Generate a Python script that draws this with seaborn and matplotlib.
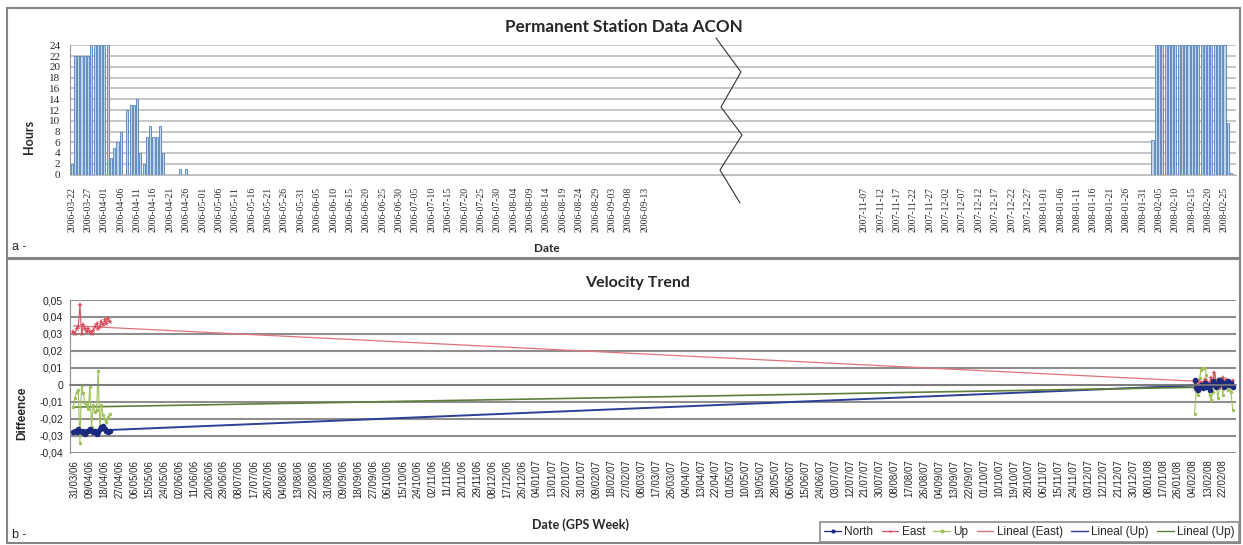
#!/usr/bin/env python3
"""Two-panel chart: ACON data availability and velocity trend."""

import matplotlib
matplotlib.use("Agg")
import matplotlib.dates as mdates
import matplotlib.pyplot as plt
import numpy as np
import pandas as pd
import seaborn as sns
from matplotlib.lines import Line2D
from matplotlib.patches import Rectangle
from matplotlib.ticker import FuncFormatter

# ---------------- panel a: hours of data per day ----------------
SEG1_START = "2006-03-22"
SEG1_HOURS = [2, 22, 22, 22, 22, 22, 24, 24, 24, 24, 24, 24, 3, 5, 6, 8, 0,
              12, 13, 13, 14, 4, 2, 7, 9, 7, 7, 9, 4, 0, 0, 0, 0, 1, 0, 1]
SEG2_START = "2008-02-03"
SEG2_HOURS = [6.5, 24, 24, 24, 24, 24, 24, 24, 24, 24, 24, 24, 24, 24, 24,
              24, 24, 24, 24, 24, 24, 24, 24, 9.5, 0.3]
SEG1_TICKS = pd.date_range("2006-03-22", "2006-09-13", freq="5D")
SEG2_TICKS = pd.date_range("2007-11-07", "2008-02-25", freq="5D")
CUT_DATE = pd.Timestamp("2007-11-07")
CUT_SLOT = 242  # axis slot where the second part starts after the break

# ---------------- panel b: daily differences ----------------
EARLY_START = "2006-03-30"
NORTH_EARLY = [-0.028, -0.027, -0.028, -0.026, -0.027, -0.028, -0.027, -0.029,
               -0.027, -0.027, -0.026, -0.027, -0.028, -0.027, -0.029, -0.028,
               -0.026, -0.025, -0.024, -0.026, -0.027, -0.028, -0.027]
EAST_EARLY = [0.031, 0.030, 0.033, 0.034, 0.047, 0.030, 0.035, 0.033, 0.031,
              0.033, 0.031, 0.030, 0.032, 0.034, 0.036, 0.033, 0.034, 0.037,
              0.035, 0.038, 0.036, 0.039, 0.037]
UP_EARLY = [-0.013, -0.008, -0.004, -0.003, -0.034, 0.000, -0.005, -0.011,
            -0.012, -0.014, -0.001, -0.025, -0.012, -0.016, -0.015, 0.008,
            -0.026, -0.012, -0.018, -0.020, -0.022, -0.019, -0.017]
LATE_START = "2008-02-05"
NORTH_LATE = [0.003, -0.002, -0.003, -0.001, 0.000, -0.002, 0.001, -0.001,
              0.000, -0.003, 0.000, 0.002, 0.001, -0.001, 0.000, 0.003, 0.002,
              0.001, -0.001, 0.001, 0.002, 0.000, 0.001, -0.001]
EAST_LATE = [0.001, 0.000, 0.002, -0.001, 0.001, 0.000, 0.003, 0.002, -0.001,
             0.001, 0.004, 0.002, 0.007, 0.001, 0.003, -0.002, 0.002, 0.004,
             0.001, 0.003, 0.002, 0.000, 0.001, 0.002]
UP_LATE = [-0.017, -0.003, -0.006, 0.004, 0.009, 0.010, 0.010, 0.006, -0.002,
           -0.006, -0.009, -0.004, 0.006, 0.003, -0.008, -0.002, 0.004, -0.006,
           0.002, 0.001, -0.003, 0.000, -0.004, -0.015]
VEL_TICKS = pd.date_range("2006-03-31", "2008-02-22", freq="9D")

W, H = 1243, 545

SERIES_STYLE = {
    "North": dict(color="#1b2a7e", marker="o", markersize=4, lw=1.6, mew=0),
    "East": dict(color="#d4505c", marker="*", markersize=4, lw=0.8, mew=0),
    "Up": dict(color="#9fc05a", marker="o", markersize=2.5, lw=0.8, mew=0),
}
TREND_STYLE = [
    ("east", "Lineal (East)", dict(color="#e0737c", lw=0.9)),
    ("north", "Lineal (Up)", dict(color="#2d3f96", lw=1.4)),
    ("up", "Lineal (Up)", dict(color="#5f7e3c", lw=1.2)),
]


def px(x, y):
    """Pixel position (from top-left) to figure fraction."""
    return x / W, 1 - y / H


def slot(dates):
    d = pd.DatetimeIndex(dates)
    first = (d - pd.Timestamp(SEG1_START)).days
    second = (d - CUT_DATE).days + CUT_SLOT
    return np.where(d >= CUT_DATE, second, first)


def axes_rect(left, top, right, bottom):
    x0, y0 = px(left, bottom)
    return [x0, y0, (right - left) / W, (bottom - top) / H]


sns.set_style("white")
plt.rcParams["font.family"] = ["Liberation Sans", "DejaVu Sans"]

fig = plt.figure(figsize=(W / 100, H / 100), dpi=100)

# ---------------- panel a ----------------
hours = pd.DataFrame({
    "date": list(pd.date_range(SEG1_START, periods=len(SEG1_HOURS)))
    + list(pd.date_range(SEG2_START, periods=len(SEG2_HOURS))),
    "hours": SEG1_HOURS + SEG2_HOURS,
})
hours["slot"] = slot(hours["date"])

ax1 = fig.add_axes(axes_rect(70, 45.5, 1236, 174.5))
sns.barplot(data=hours, x="slot", y="hours", native_scale=True, width=0.65,
            color="#c3d5ea", saturation=1, edgecolor="#4f81bd", linewidth=0.6,
            errorbar=None, ax=ax1)
ax1.set_xlim(-0.5, 355.5)
ax1.set_ylim(0, 24)
ax1.set_yticks(range(0, 25, 2))
ax1.grid(axis="y", color="#c6c6c6", lw=1.4)
ax1.set_axisbelow(True)
for side in ["top", "right"]:
    ax1.spines[side].set_visible(False)
ax1.spines["left"].set_color("#9a9a9a")
ax1.spines["bottom"].set_color("#bdbdbd")
ticks_a = SEG1_TICKS.append(SEG2_TICKS)
ax1.set_xticks(slot(ticks_a), [d.strftime("%Y-%m-%d") for d in ticks_a])
ax1.tick_params(axis="x", length=0, pad=9, labelrotation=90, labelsize=7)
ax1.tick_params(axis="y", length=0, pad=7, labelsize=8)
for lab in ax1.get_xticklabels() + ax1.get_yticklabels():
    lab.set_fontfamily("Liberation Serif")
    lab.set_color("#2a2a2a")
ax1.set_xlabel("")
ax1.set_ylabel("")

fig.text(*px(624, 27), "Permanent Station Data ACON", ha="center", va="center",
         fontsize=12.3, fontweight="bold", family="Lato")
fig.text(*px(29, 137), "Hours", ha="center", va="center", rotation=90,
         fontsize=9, fontweight="bold", family="Lato")
fig.text(*px(547, 248), "Date", ha="center", va="center",
         fontsize=8.5, fontweight="bold", family="Lato")
fig.text(*px(12, 247), "a -", ha="left", va="center", fontsize=9)

# break mark across the cut
zig_x = [716, 741, 721, 742, 720, 740]
zig_y = [38, 72, 107, 135, 170, 203]
fx, fy = zip(*[px(a, b) for a, b in zip(zig_x, zig_y)])
fig.add_artist(Line2D(fx, fy, transform=fig.transFigure, color="#333333", lw=0.8))

# ---------------- panel b ----------------
early = pd.DataFrame({"date": pd.date_range(EARLY_START, periods=len(NORTH_EARLY)),
                      "north": NORTH_EARLY, "east": EAST_EARLY, "up": UP_EARLY,
                      "cluster": 0})
late = pd.DataFrame({"date": pd.date_range(LATE_START, periods=len(NORTH_LATE)),
                     "north": NORTH_LATE, "east": EAST_LATE, "up": UP_LATE,
                     "cluster": 1})
vel = pd.concat([early, late], ignore_index=True)
vel["t"] = mdates.date2num(vel["date"])

ax2 = fig.add_axes(axes_rect(70, 300, 1236, 452.7))
for col, label, style in TREND_STYLE:
    sns.regplot(data=vel, x="t", y=col, scatter=False, ci=None, truncate=True,
                color=style["color"], line_kws=dict(lw=style["lw"]), ax=ax2)
for col, name in [("up", "Up"), ("east", "East"), ("north", "North")]:
    st = SERIES_STYLE[name]
    sns.lineplot(data=vel, x="t", y=col, units="cluster", estimator=None,
                 color=st["color"], marker=st["marker"], markersize=st["markersize"],
                 markeredgewidth=st["mew"], lw=st["lw"], legend=False, ax=ax2)

ax2.set_xlim(mdates.date2num(pd.Timestamp("2006-03-28")),
             mdates.date2num(pd.Timestamp("2008-03-01")))
ax2.set_ylim(-0.04, 0.05)
ax2.set_yticks(np.round(np.arange(-0.04, 0.0501, 0.01), 2))
ax2.yaxis.set_major_formatter(FuncFormatter(
    lambda v, _: "0" if abs(v) < 1e-9 else f"{v:.2f}".replace(".", ",")))
ax2.grid(axis="y", color="#8e8e8e", lw=1.5)
ax2.set_axisbelow(True)
for side in ["top", "right"]:
    ax2.spines[side].set_visible(False)
ax2.spines["left"].set_color("#8e8e8e")
ax2.spines["bottom"].set_position(("data", 0))
ax2.spines["bottom"].set_color("#7a7a7a")
ax2.spines["bottom"].set_linewidth(1.2)
tick_t = mdates.date2num(VEL_TICKS)
ax2.set_xticks(tick_t)
ax2.tick_params(axis="x", direction="inout", length=5, color="#7a7a7a",
                labelbottom=False)
ax2.tick_params(axis="y", length=3, color="#8e8e8e", pad=2, labelsize=7.5)
ax2.set_xlabel("")
ax2.set_ylabel("")

sec = ax2.secondary_xaxis(0)
sec.set_xticks(tick_t, [d.strftime("%d/%m/%y") for d in VEL_TICKS])
sec.tick_params(axis="x", length=0, pad=5, labelrotation=90, labelsize=7)
sec.spines["bottom"].set_visible(False)

fig.text(*px(638, 283), "Velocity Trend", ha="center", va="center",
         fontsize=11.5, fontweight="bold", family="Lato")
fig.text(*px(22, 413), "Diffeence", ha="center", va="center", rotation=90,
         fontsize=8.5, fontweight="bold")
fig.text(*px(581, 525), "Date (GPS Week)", ha="center", va="center",
         fontsize=9, fontweight="bold", family="Lato")
fig.text(*px(12, 535), "b -", ha="left", va="center", fontsize=9)

handles = [Line2D([], [], color=SERIES_STYLE[n]["color"], marker=SERIES_STYLE[n]["marker"],
                  markersize=3, lw=0.9, mew=0)
           for n in ["North", "East", "Up"]]
labels = ["North", "East", "Up"]
for _, label, style in TREND_STYLE:
    handles.append(Line2D([], [], color=style["color"], lw=1.0))
    labels.append(label)
leg = fig.legend(handles, labels, loc="lower right", bbox_to_anchor=px(1239, 542),
                 ncol=6, fontsize=8.5, handlelength=1.4, columnspacing=0.7,
                 handletextpad=0.3, borderpad=0.35, borderaxespad=0,
                 fancybox=False, edgecolor="#8c8c8c", framealpha=1)
leg.get_frame().set_linewidth(1.2)

# panel frames
for top, bottom in [(8, 258), (259, 543)]:
    x0, y0 = px(7, bottom)
    fig.add_artist(Rectangle((x0, y0), (1240 - 7) / W, (bottom - top) / H,
                             transform=fig.transFigure, fill=False,
                             ec="#858585", lw=1.5))

fig.savefig("out.png", dpi=100)
